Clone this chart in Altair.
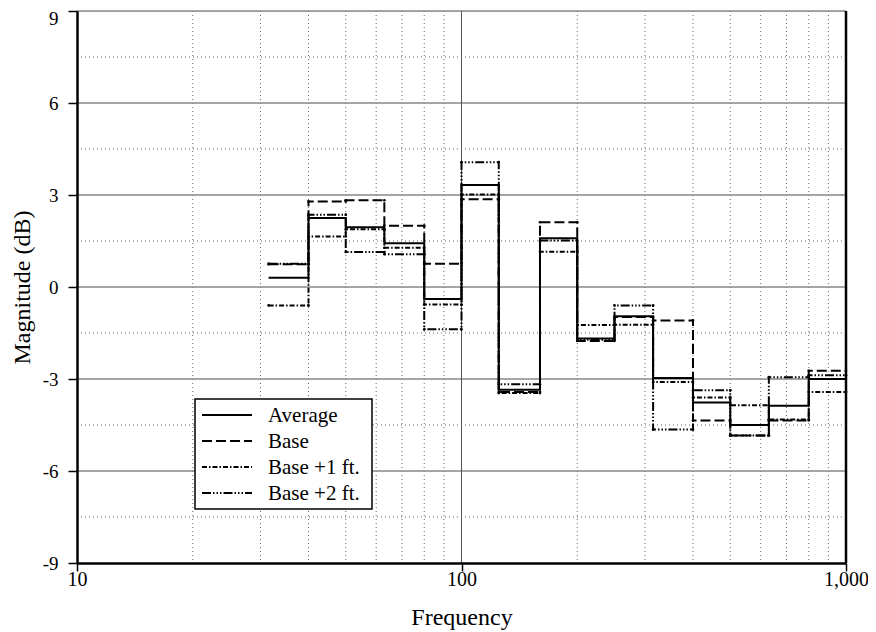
import altair as alt
import pandas as pd

# Third-octave band edges (Hz); each value holds from its edge to the next
edges = [31.5, 40, 50, 63, 80, 100, 125, 160, 200, 250, 315, 400, 500, 630, 800, 1000]

average = [0.30, 2.25, 1.95, 1.43, -0.39, 3.33, -3.35, 1.59, -1.68, -0.95, -2.97, -3.77, -4.50, -3.87, -3.00]
base = [0.74, 2.79, 2.83, 2.00, 0.76, 2.86, -3.42, 2.11, -1.76, -0.98, -1.09, -4.35, -4.84, -4.35, -2.73]
base_1ft = [-0.60, 1.65, 1.88, 1.28, -0.57, 3.02, -3.46, 1.15, -1.24, -1.23, -3.10, -3.60, -3.86, -4.32, -3.42]
base_2ft = [0.76, 2.36, 1.14, 1.07, -1.38, 4.07, -3.17, 1.52, -1.72, -0.60, -4.65, -3.37, -4.84, -2.94, -2.88]

series_names = ["Average", "Base", "Base +1 ft.", "Base +2 ft."]
series_values = [average, base, base_1ft, base_2ft]

x_ticks = [10, 100, 1000]
y_ticks = [-9, -6, -3, 0, 3, 6, 9]
y_major_grid = [-6, -3, 0, 3, 6, 9]
y_minor_grid = [-7.5, -4.5, -1.5, 1.5, 4.5, 7.5]
x_major_grid = [100]
x_minor_grid = [20, 30, 40, 50, 60, 70, 80, 90, 200, 300, 400, 500, 600, 700, 800, 900]
x_right = [1000]

# line table (step-after, last value repeated at the upper edge)
line_rows = []
corner_rows = []
for name, vals in zip(series_names, series_values):
    for i, v in enumerate(vals):
        line_rows.append({"series": name, "f": edges[i], "db": v})
    line_rows.append({"series": name, "f": edges[-1], "db": vals[-1]})
    if name != "Average":
        for i, v in enumerate(vals):
            corner_rows.append({"series": name, "f": edges[i], "db": v})
            corner_rows.append({"series": name, "f": edges[i + 1], "db": v})
lines_df = pd.DataFrame(line_rows)
corners_df = pd.DataFrame(corner_rows)

FONT = "Liberation Serif"
xs = alt.Scale(type="log", domain=[10, 1000], nice=False)
ys = alt.Scale(domain=[-9, 9], nice=False, zero=False)

x_axis = alt.Axis(values=x_ticks, format=",", grid=False, tickSize=8, tickWidth=1.5,
                  tickColor="black", domainColor="black", domainWidth=2.5, labelFlush=False,
                  labelFont=FONT, labelFontSize=20, labelColor="black", labelPadding=-2,
                  title="Frequency", titleFont=FONT, titleFontSize=24,
                  titleFontWeight="normal", titleColor="black", titlePadding=16, zindex=1)
y_axis = alt.Axis(values=y_ticks, labelExpr="'' + datum.value", grid=False, tickSize=9,
                  tickWidth=1.5, tickColor="black", domainColor="black", domainWidth=2.5,
                  labelFlush=False,
                  labelFont=FONT, labelFontSize=19, labelColor="black", labelPadding=10,
                  labelOffset=alt.expr("datum.value == 9 ? 7 : 0"),
                  title="Magnitude (dB)", titleFont=FONT, titleFontSize=24,
                  titleFontWeight="normal", titleColor="black", titlePadding=8, zindex=1)

def vrules(vals, **kw):
    return alt.Chart(pd.DataFrame({"f": vals})).mark_rule(**kw).encode(
        x=alt.X("f:Q", scale=xs, axis=x_axis))

def hrules(vals, **kw):
    return alt.Chart(pd.DataFrame({"db": vals})).mark_rule(**kw).encode(
        y=alt.Y("db:Q", scale=ys, axis=y_axis))

minor_x = vrules(x_minor_grid, color="#666666", strokeWidth=1, strokeDash=[1, 3])
minor_y = hrules(y_minor_grid, color="#666666", strokeWidth=1, strokeDash=[1, 3])
major_y = hrules(y_major_grid, color="#888888", strokeWidth=1.5)
major_x = vrules(x_major_grid, color="#555555", strokeWidth=1)
right_edge = vrules(x_right, color="black", strokeWidth=2.5)

dash_range = [[1, 0], [10, 4], [5, 2, 1.5, 2], [9, 2, 1.5, 2, 1.5, 2, 1.5, 2]]

lines = alt.Chart(lines_df).mark_line(interpolate="step-after", color="black", strokeWidth=2).encode(
    x=alt.X("f:Q", scale=xs, axis=x_axis),
    y=alt.Y("db:Q", scale=ys, axis=y_axis),
    strokeDash=alt.StrokeDash("series:N", scale=alt.Scale(domain=series_names, range=dash_range),
                              legend=None),
    order=alt.Order("f:Q"),
)

dots = alt.Chart(corners_df).mark_circle(color="black", size=7, opacity=1).encode(
    x=alt.X("f:Q", scale=xs, axis=x_axis),
    y=alt.Y("db:Q", scale=ys, axis=y_axis),
)

# legend box drawn in the plot's pixel space
LEG_X0, LEG_X1, LEG_Y0, LEG_Y1 = 118, 295, 388, 498
ROW0, ROW_STEP = 404, 26
legend_layers = [
    alt.Chart(pd.DataFrame({"k": [0]})).mark_rect(fill="white", stroke="black", strokeWidth=1.5).encode(
        x=alt.value(LEG_X0), x2=alt.value(LEG_X1), y=alt.value(LEG_Y0), y2=alt.value(LEG_Y1))
]
for i, name in enumerate(series_names):
    row_df = pd.DataFrame({"label": [name]})
    legend_layers.append(
        alt.Chart(row_df).mark_rule(color="black", strokeWidth=2, strokeDash=dash_range[i]).encode(
            x=alt.value(125), x2=alt.value(175),
            y=alt.value(ROW0 + ROW_STEP * i)))
    legend_layers.append(
        alt.Chart(row_df).mark_text(align="left", baseline="middle", font=FONT, fontSize=21,
                                    color="black").encode(
            text="label:N", x=alt.value(191), y=alt.value(ROW0 + ROW_STEP * i + 1)))

chart = alt.layer(minor_x, minor_y, major_y, major_x, right_edge, dots, lines,
                  *legend_layers).properties(
    width=769, height=552,
    autosize=alt.AutoSizeParams(type="none"),
    padding={"left": 69, "top": 3, "right": 22, "bottom": 69},
).configure_view(stroke=None).configure(background="white")

chart.save("out.html", embed_options={"renderer": "svg", "actions": False})
